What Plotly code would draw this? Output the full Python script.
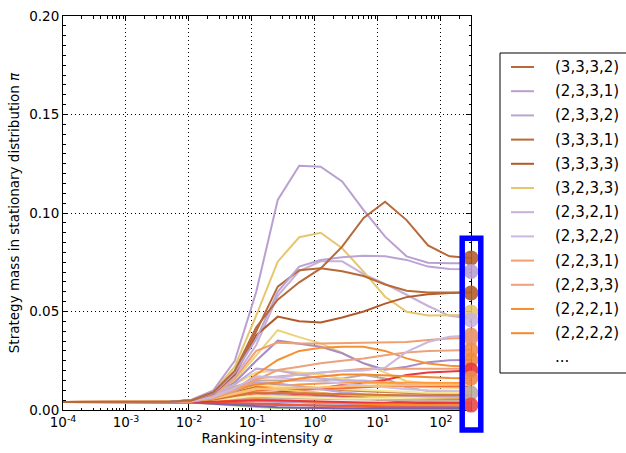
import plotly.graph_objects as go

# Ranking-intensity grid (20 log-spaced values from 1e-4 to 300)
alpha = [1.0e-4, 2.193e-4, 4.807e-4, 1.0537e-3, 2.3101e-3, 5.0641e-3, 1.1101e-2,
         2.4336e-2, 5.335e-2, 0.11696, 0.25645, 0.56221, 1.2325, 2.7021,
         5.9239, 12.987, 28.470, 62.41, 136.83, 300.0]

x_tickvals = [1e-4, 1e-3, 1e-2, 1e-1, 1e0, 1e1, 1e2]
x_ticktext = ["10<sup>-4</sup>", "10<sup>-3</sup>", "10<sup>-2</sup>", "10<sup>-1</sup>",
              "10<sup>0</sup>", "10<sup>1</sup>", "10<sup>2</sup>"]

# Stationary mass of the leading strategies
s_3332 = [.0041, .0041, .0041, .0041, .0041, .0042, .0050, .0090, .0200, .0420,
          .0560, .0648, .0719, .0829, .0975, .1057, .0964, .0835, .0780, .0772]
s_2331 = [.0041, .0041, .0041, .0041, .0041, .0042, .0052, .0100, .0250, .0600,
          .1066, .1240, .1235, .1160, .1015, .0880, .0780, .0748, .0745, .0745]
s_2332 = [.0041, .0041, .0041, .0041, .0041, .0042, .0050, .0085, .0190, .0360,
          .0600, .0728, .0761, .0775, .0783, .0780, .0762, .0728, .0716, .0714]
s_3331 = [.0041, .0041, .0041, .0041, .0041, .0042, .0050, .0088, .0195, .0400,
          .0626, .0710, .0719, .0704, .0680, .0637, .0605, .0597, .0596, .0596]
s_3333 = [.0041, .0041, .0041, .0041, .0041, .0042, .0049, .0082, .0180, .0380,
          .0474, .0450, .0444, .0470, .0500, .0540, .0573, .0588, .0594, .0596]
s_3233 = [.0041, .0041, .0041, .0041, .0041, .0042, .0052, .0095, .0220, .0480,
          .0753, .0877, .0900, .0821, .0702, .0575, .0499, .0480, .0481, .0482]
s_2321 = [.0041, .0041, .0041, .0041, .0041, .0042, .0049, .0080, .0170, .0330,
          .0580, .0705, .0755, .0755, .0690, .0640, .0585, .0528, .0478, .0465]
s_2322 = [.0041, .0041, .0041, .0041, .0041, .0042, .0046, .0065, .0110, .0170,
          .0165, .0180, .0190, .0198, .0200, .0215, .0295, .0345, .0372, .0378]
s_2231 = [.0041, .0041, .0041, .0041, .0041, .0042, .0047, .0075, .0160, .0300,
          .0342, .0338, .0338, .0340, .0340, .0341, .0345, .0355, .0363, .0367]
s_2233 = [.0041, .0041, .0041, .0041, .0041, .0042, .0045, .0062, .0100, .0150,
          .0203, .0220, .0237, .0250, .0262, .0278, .0292, .0300, .0304, .0305]
s_2221 = [.0041, .0041, .0041, .0041, .0041, .0042, .0045, .0060, .0100, .0180,
          .0254, .0300, .0316, .0321, .0321, .0300, .0262, .0236, .0225, .0220]
s_2222 = [.0041, .0041, .0041, .0041, .0041, .0042, .0044, .0065, .0100, .0130,
          .0140, .0160, .0170, .0180, .0180, .0175, .0170, .0165, .0162, .0160]

legend_labels = ["(3,3,3,2)", "(2,3,3,1)", "(2,3,3,2)", "(3,3,3,1)", "(3,3,3,3)",
                 "(3,2,3,3)", "(2,3,2,1)", "(2,3,2,2)", "(2,2,3,1)", "(2,2,3,3)",
                 "(2,2,2,1)", "(2,2,2,2)"]
legend_series = [s_3332, s_2331, s_2332, s_3331, s_3333, s_3233, s_2321, s_2322,
                 s_2231, s_2233, s_2221, s_2222]
legend_colors = ["#b8693c", "#b9a0d0", "#bba4d3", "#b86a36", "#b35a2b", "#e6c66e",
                 "#c7b0d9", "#cbb8dc", "#f0a06e", "#eaa37d", "#f59035", "#f48a30"]

# Remaining strategies (unlabelled)
o_01 = [.0041, .0041, .0041, .0041, .0041, .0042, .0048, .0075, .0150, .0280,
        .0405, .0370, .0338, .0290, .0237, .0190, .0146, .0136, .0134, .0134]
o_02 = [.0041, .0041, .0041, .0041, .0041, .0042, .0047, .0072, .0140, .0250,
        .0352, .0335, .0321, .0288, .0237, .0205, .0220, .0243, .0252, .0254]
o_03 = [.0041, .0041, .0041, .0041, .0041, .0041, .0045, .0075, .0120, .0150,
        .0150, .0150, .0150, .0160, .0178, .0160, .0115, .0095, .0093, .0093]
o_04 = [.0041, .0041, .0041, .0041, .0041, .0041, .0040, .0045, .0060, .0080,
        .0090, .0100, .0110, .0127, .0140, .0152, .0178, .0190, .0195, .0200]
o_05 = [.0041, .0041, .0041, .0041, .0041, .0041, .0041, .0050, .0065, .0080,
        .0085, .0080, .0075, .0070, .0060, .0050, .0040, .0032, .0027, .0025]
o_06 = [.0041, .0041, .0041, .0041, .0041, .0042, .0046, .0080, .0130, .0190,
        .0200, .0190, .0180, .0160, .0140, .0130, .0120, .0115, .0112, .0110]
o_07 = [.0041, .0041, .0041, .0041, .0041, .0042, .0045, .0075, .0130, .0210,
        .0200, .0180, .0160, .0150, .0150, .0140, .0130, .0125, .0120, .0120]
o_08 = [.0041, .0041, .0041, .0041, .0041, .0042, .0044, .0070, .0110, .0160,
        .0170, .0180, .0190, .0200, .0210, .0210, .0210, .0210, .0210, .0210]
o_09 = [.0041, .0041, .0041, .0041, .0041, .0042, .0043, .0065, .0100, .0140,
        .0130, .0120, .0110, .0100, .0095, .0090, .0085, .0082, .0080, .0080]
o_10 = [.0041, .0041, .0041, .0041, .0041, .0042, .0043, .0060, .0090, .0120,
        .0120, .0130, .0135, .0140, .0140, .0140, .0140, .0138, .0137, .0137]
o_11 = [.0041, .0041, .0041, .0041, .0041, .0041, .0040, .0045, .0055, .0070,
        .0075, .0070, .0065, .0060, .0055, .0050, .0048, .0046, .0045, .0045]
o_12 = [.0041, .0041, .0041, .0041, .0041, .0042, .0044, .0068, .0100, .0130,
        .0120, .0115, .0110, .0105, .0100, .0095, .0090, .0088, .0087, .0087]
o_13 = [.0041, .0041, .0041, .0041, .0041, .0040, .0038, .0030, .0022, .0015,
        .0010, .0008, .0006, .0005, .0004, .0004, .0003, .0003, .0003, .0003]
o_14 = [.0041, .0041, .0041, .0041, .0041, .0041, .0040, .0040, .0042, .0045,
        .0042, .0038, .0034, .0030, .0028, .0026, .0025, .0025, .0025, .0025]
o_15 = [.0041, .0041, .0041, .0041, .0041, .0041, .0042, .0055, .0075, .0100,
        .0105, .0105, .0105, .0110, .0115, .0120, .0120, .0120, .0120, .0120]
o_16 = [.0041, .0041, .0041, .0041, .0041, .0041, .0042, .0050, .0065, .0075,
        .0070, .0065, .0060, .0058, .0056, .0055, .0055, .0055, .0055, .0055]
o_17 = [.0041, .0041, .0041, .0041, .0041, .0042, .0043, .0060, .0090, .0115,
        .0105, .0095, .0085, .0075, .0070, .0065, .0060, .0058, .0057, .0057]
o_18 = [.0041, .0041, .0041, .0041, .0041, .0041, .0039, .0035, .0030, .0028,
        .0026, .0024, .0022, .0021, .0020, .0020, .0020, .0020, .0020, .0020]
o_19 = [.0041, .0041, .0041, .0041, .0041, .0042, .0043, .0060, .0085, .0110,
        .0105, .0095, .0085, .0078, .0072, .0068, .0065, .0064, .0063, .0063]
o_20 = [.0041, .0041, .0041, .0041, .0041, .0041, .0040, .0038, .0036, .0034,
        .0030, .0026, .0022, .0019, .0016, .0014, .0013, .0012, .0012, .0012]
o_21 = [.0041, .0041, .0041, .0041, .0041, .0042, .0044, .0070, .0110, .0170,
        .0165, .0155, .0145, .0135, .0125, .0115, .0105, .0100, .0098, .0097]
o_22 = [.0041, .0041, .0041, .0041, .0041, .0041, .0041, .0046, .0055, .0062,
        .0060, .0058, .0056, .0054, .0052, .0050, .0048, .0047, .0047, .0047]
o_23 = [.0041, .0041, .0041, .0041, .0041, .0041, .0041, .0045, .0050, .0055,
        .0050, .0045, .0040, .0035, .0030, .0027, .0025, .0024, .0024, .0024]
o_24 = [.0041, .0041, .0041, .0041, .0041, .0041, .0042, .0050, .0062, .0072,
        .0068, .0064, .0060, .0058, .0058, .0060, .0062, .0065, .0066, .0066]
o_25 = [.0041, .0041, .0041, .0041, .0041, .0042, .0043, .0062, .0095, .0140,
        .0135, .0120, .0105, .0090, .0080, .0075, .0070, .0068, .0067, .0067]
o_26 = [.0041, .0041, .0041, .0041, .0041, .0041, .0042, .0052, .0070, .0090,
        .0088, .0085, .0082, .0080, .0078, .0076, .0075, .0075, .0075, .0075]
o_27 = [.0041, .0041, .0041, .0041, .0041, .0040, .0038, .0032, .0025, .0018,
        .0014, .0012, .0010, .0009, .0008, .0008, .0007, .0007, .0007, .0007]
o_28 = [.0041, .0041, .0041, .0041, .0041, .0041, .0041, .0042, .0046, .0050,
        .0048, .0045, .0042, .0040, .0038, .0037, .0036, .0036, .0036, .0036]
o_29 = [.0041, .0041, .0041, .0041, .0041, .0042, .0043, .0058, .0080, .0105,
        .0110, .0112, .0115, .0120, .0122, .0125, .0127, .0128, .0128, .0128]

other_series = [o_01, o_02, o_03, o_04, o_05, o_06, o_07, o_08, o_09, o_10,
                o_11, o_12, o_13, o_14, o_15, o_16, o_17, o_18, o_19, o_20,
                o_21, o_22, o_23, o_24, o_25, o_26, o_27, o_28, o_29]
other_colors = ["#ecd27e", "#a98cc6", "#bfac9c", "#e8393c", "#ec5050", "#f2d680",
                "#c5addb", "#eba07a", "#c7884f", "#ff9a3c", "#9e86bf", "#f7e59a",
                "#aadc88", "#b49bd0", "#f26b3a", "#f4b48c", "#b86a3a", "#8f73b4",
                "#e9c96c", "#f05a3a", "#d2c0e2", "#c9b4a0", "#fd8c24", "#f9eba5",
                "#bfa6d6", "#d4783a", "#7e61a8", "#e8383d", "#fdbf6f"]

# Mass at the largest ranking-intensity, highlighted at the right edge
dot_mass = [0.0772, 0.0703, 0.0594, 0.0497, 0.0457, 0.0381, 0.0365, 0.0305,
            0.0254, 0.0203, 0.0162, 0.0086, 0.0025]
dot_colors = ["#b35f2e", "#b9a0d0", "#b35f2e", "#e6c66e", "#c9b4d9", "#e8966a",
              "#e89a78", "#f0904a", "#f08a3c", "#e8393c", "#ec8c50", "#bcaa9c",
              "#e84a4a"]

FONT = "DejaVu Sans"
fig = go.Figure()

for ys, col in zip(other_series, other_colors):
    fig.add_trace(go.Scatter(x=alpha, y=ys, mode="lines",
                             line=dict(color=col, width=2), showlegend=False,
                             hoverinfo="skip"))

for ys, col, lab in reversed(list(zip(legend_series, legend_colors, legend_labels))):
    fig.add_trace(go.Scatter(x=alpha, y=ys, mode="lines", name=lab,
                             line=dict(color=col, width=2), showlegend=False))

fig.add_trace(go.Scatter(x=[alpha[-1]] * len(dot_mass), y=dot_mass, mode="markers",
                         marker=dict(size=15, color=dot_colors, opacity=0.9,
                                     line=dict(width=0)),
                         cliponaxis=False, showlegend=False))

# Plot-area geometry in pixels (for the paper-referenced decorations)
W, H = 626, 453
L, R, T, B = 63, 155, 16, 43
PW, PH = W - L - R, H - T - B


def px(x):
    return (x - L) / PW


def py(y):
    return (H - B - y) / PH


shapes = []
annotations = []

# Highlight box around the end-point markers
shapes.append(dict(type="rect", xref="paper", yref="paper",
                   x0=px(462.2), x1=px(480.8), y0=py(430), y1=py(238.3),
                   line=dict(color="#0000ff", width=5.5), layer="above"))

# Legend frame
shapes.append(dict(type="rect", xref="paper", yref="paper",
                   x0=px(500), x1=px(660), y0=py(373), y1=py(53),
                   line=dict(color="black", width=1), fillcolor="white",
                   layer="above"))

row0, row_step = 67.0, 24.2
for i, (lab, col) in enumerate(zip(legend_labels, legend_colors)):
    yy = row0 + i * row_step
    shapes.append(dict(type="line", xref="paper", yref="paper",
                       x0=px(511), x1=px(534), y0=py(yy), y1=py(yy),
                       line=dict(color=col, width=2), layer="above"))
    annotations.append(dict(x=px(553), y=py(yy), xref="paper", yref="paper",
                            text=lab, showarrow=False, xanchor="left",
                            yanchor="middle",
                            font=dict(family=FONT, size=15, color="black")))
annotations.append(dict(x=px(553), y=py(row0 + 12 * row_step), xref="paper",
                        yref="paper", text="...", showarrow=False,
                        xanchor="left", yanchor="middle",
                        font=dict(family=FONT, size=15, color="black")))

axis_common = dict(
    showline=True, linecolor="black", linewidth=1, mirror="ticks",
    ticks="inside", ticklen=5, tickwidth=1, tickcolor="black",
    showgrid=True, gridcolor="black", gridwidth=1, griddash="1px,3px",
    zeroline=False, layer="below traces",
    tickfont=dict(family=FONT, size=13.5, color="black"),
)

fig.update_layout(
    width=W, height=H,
    margin=dict(l=L, r=R, t=T, b=B, autoexpand=False),
    paper_bgcolor="white", plot_bgcolor="white",
    font=dict(family=FONT, color="black"),
    shapes=shapes, annotations=annotations,
    xaxis=dict(type="log", range=[-4, 2.4772], tickmode="array",
               tickvals=x_tickvals, ticktext=x_ticktext,
               minor=dict(ticks="inside", ticklen=2.5, dtick="D1",
                          tickcolor="black", showgrid=False),
               title=dict(text="Ranking-intensity <i>α</i>",
                          font=dict(family=FONT, size=13.5, color="black"),
                          standoff=4),
               **axis_common),
    yaxis=dict(range=[0, 0.2], dtick=0.05, tickformat=".2f",
               minor=dict(ticks="inside", ticklen=2.5, dtick=0.005,
                          tickcolor="black", showgrid=False),
               title=dict(text="Strategy mass in stationary distribution <i>π</i>",
                          font=dict(family=FONT, size=13.5, color="black"),
                          standoff=6),
               **axis_common),
)

fig.write_html("out.html")
